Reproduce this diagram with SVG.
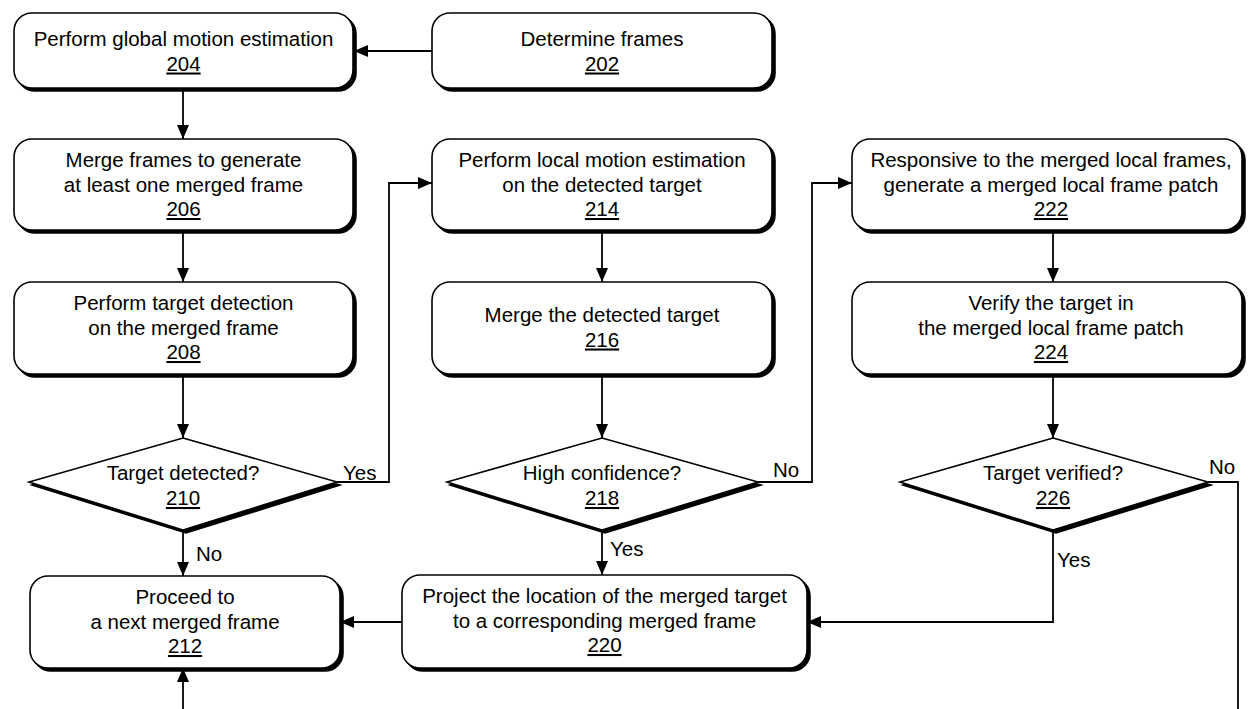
<svg xmlns="http://www.w3.org/2000/svg" width="1248" height="709" viewBox="0 0 1248 709">
<style>
text{font-family:"Liberation Sans",Arial,sans-serif;font-size:20.5px;fill:#000;text-anchor:middle}
.n{text-decoration:underline}
.l{text-anchor:start}
.box{fill:#fff;stroke:#000;stroke-width:1.6}
.sh{fill:#000;stroke:#000;stroke-width:1.6}
.c{fill:none;stroke:#000;stroke-width:1.8}
</style>
<defs>
<marker id="a" viewBox="0 0 14 12" refX="14" refY="6" markerWidth="14" markerHeight="12" markerUnits="userSpaceOnUse" orient="auto">
<path d="M0,0L14,6L0,12z" fill="#000"/>
</marker>
</defs>
<g id="connectors">
<path class="c" d="M432,51H354" marker-end="url(#a)"/>
<path class="c" d="M183,88V139" marker-end="url(#a)"/>
<path class="c" d="M183,230V282" marker-end="url(#a)"/>
<path class="c" d="M183,374V438" marker-end="url(#a)"/>
<path class="c" d="M183,530V576" marker-end="url(#a)"/>
<path class="c" d="M337,482H389V183H432" marker-end="url(#a)"/>
<path class="c" d="M602,230V282" marker-end="url(#a)"/>
<path class="c" d="M602,374V438" marker-end="url(#a)"/>
<path class="c" d="M602,530V575" marker-end="url(#a)"/>
<path class="c" d="M758,482H812V183H852" marker-end="url(#a)"/>
<path class="c" d="M1053,230V282" marker-end="url(#a)"/>
<path class="c" d="M1053,374V438" marker-end="url(#a)"/>
<path class="c" d="M1053,530V622H807" marker-end="url(#a)"/>
<path class="c" d="M1208,482H1238V709"/>
<path class="c" d="M402,622H340" marker-end="url(#a)"/>
<path class="c" d="M183,709V668" marker-end="url(#a)"/>
<text class="l" x="343" y="480">Yes</text>
<text class="l" x="196" y="561">No</text>
<text class="l" x="773" y="477">No</text>
<text class="l" x="610" y="556">Yes</text>
<text class="l" x="1057" y="567">Yes</text>
<text class="l" x="1209" y="474">No</text>
</g>
<g id="n204">
<rect class="sh" x="17" y="16" width="339" height="75" rx="18"/>
<rect class="box" x="14" y="13" width="339" height="75" rx="18"/>
<text x="183.5" y="46">Perform global motion estimation</text>
<text class="n" x="183.5" y="70.5">204</text>
</g>
<g id="n202">
<rect class="sh" x="435" y="16" width="340" height="75" rx="18"/>
<rect class="box" x="432" y="13" width="340" height="75" rx="18"/>
<text x="602" y="46">Determine frames</text>
<text class="n" x="602" y="70.5">202</text>
</g>
<g id="n206">
<rect class="sh" x="17" y="142" width="339" height="91" rx="18"/>
<rect class="box" x="14" y="139" width="339" height="91" rx="18"/>
<text x="183.5" y="167">Merge frames to generate</text>
<text x="183.5" y="191.5">at least one merged frame</text>
<text class="n" x="183.5" y="216">206</text>
</g>
<g id="n214">
<rect class="sh" x="435" y="142" width="340" height="91" rx="18"/>
<rect class="box" x="432" y="139" width="340" height="91" rx="18"/>
<text x="602" y="167">Perform local motion estimation</text>
<text x="602" y="191.5">on the detected target</text>
<text class="n" x="602" y="216">214</text>
</g>
<g id="n222">
<rect class="sh" x="855" y="142" width="390" height="91" rx="18"/>
<rect class="box" x="852" y="139" width="390" height="91" rx="18"/>
<text x="1051" y="167">Responsive to the merged local frames,</text>
<text x="1051" y="191.5">generate a merged local frame patch</text>
<text class="n" x="1051" y="216">222</text>
</g>
<g id="n208">
<rect class="sh" x="17" y="285" width="339" height="92" rx="18"/>
<rect class="box" x="14" y="282" width="339" height="92" rx="18"/>
<text x="183.5" y="310">Perform target detection</text>
<text x="183.5" y="334.5">on the merged frame</text>
<text class="n" x="183.5" y="359">208</text>
</g>
<g id="n216">
<rect class="sh" x="435" y="285" width="340" height="92" rx="18"/>
<rect class="box" x="432" y="282" width="340" height="92" rx="18"/>
<text x="602" y="322">Merge the detected target</text>
<text class="n" x="602" y="346.5">216</text>
</g>
<g id="n224">
<rect class="sh" x="855" y="285" width="390" height="92" rx="18"/>
<rect class="box" x="852" y="282" width="390" height="92" rx="18"/>
<text x="1051" y="310">Verify the target in</text>
<text x="1051" y="334.5">the merged local frame patch</text>
<text class="n" x="1051" y="359">224</text>
</g>
<g id="n210">
<polygon class="sh" points="186,441 340,485 186,533 32,485"/>
<polygon class="box" points="183,438 337,482 183,530 29,482"/>
<text x="183" y="480">Target detected?</text>
<text class="n" x="183" y="505">210</text>
</g>
<g id="n218">
<polygon class="sh" points="605,441 761,485 605,533 450,485"/>
<polygon class="box" points="602,438 758,482 602,530 447,482"/>
<text x="602" y="480">High confidence?</text>
<text class="n" x="602" y="505">218</text>
</g>
<g id="n226">
<polygon class="sh" points="1056,441 1211,485 1056,533 903,485"/>
<polygon class="box" points="1053,438 1208,482 1053,530 900,482"/>
<text x="1053" y="480">Target verified?</text>
<text class="n" x="1053" y="505">226</text>
</g>
<g id="n212">
<rect class="sh" x="33" y="579" width="310" height="92" rx="18"/>
<rect class="box" x="30" y="576" width="310" height="92" rx="18"/>
<text x="185" y="604">Proceed to</text>
<text x="185" y="628.5">a next merged frame</text>
<text class="n" x="185" y="653">212</text>
</g>
<g id="n220">
<rect class="sh" x="405" y="578" width="405" height="93" rx="18"/>
<rect class="box" x="402" y="575" width="405" height="93" rx="18"/>
<text x="604.5" y="603">Project the location of the merged target</text>
<text x="604.5" y="627.5">to a corresponding merged frame</text>
<text class="n" x="604.5" y="652">220</text>
</g>
</svg>
